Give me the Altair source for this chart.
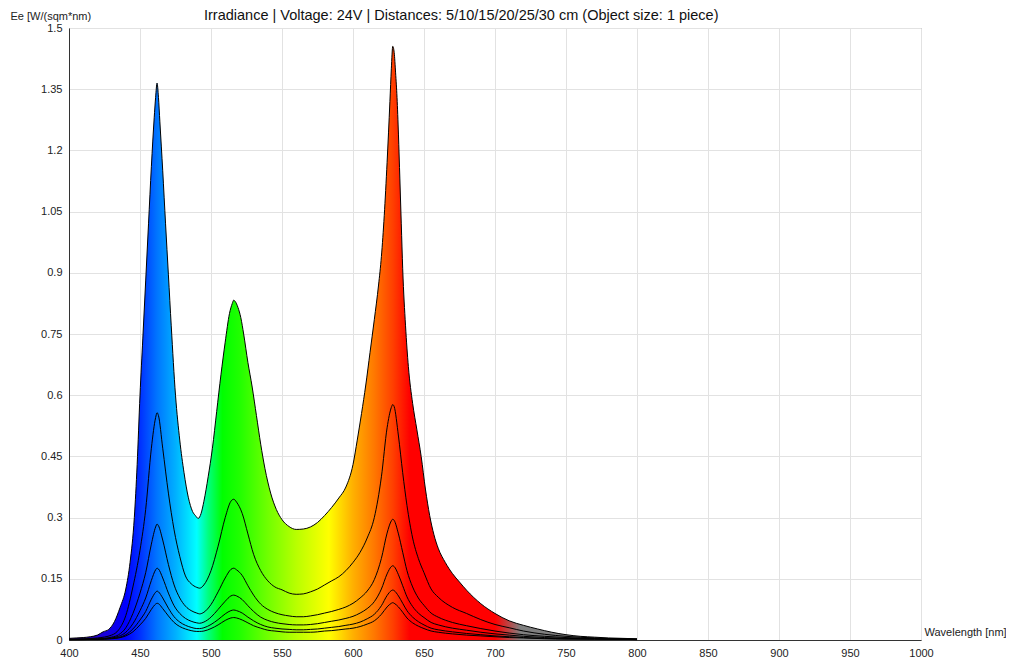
import altair as alt
import pandas as pd

# ---- 5 cm curve (outer, filled) ----
wl_5cm = [400, 405, 410, 415, 420, 424, 428, 432, 436, 440, 443, 446, 448, 450, 452, 454, 456, 458,
          460, 461, 462, 463, 464, 466, 468, 470, 472, 475, 478, 481, 484, 487, 489, 491, 493, 495,
          498, 501, 504, 507, 510, 513, 515, 516, 517, 519, 521, 523, 526, 529, 532, 535, 538, 542,
          546, 550, 555, 560, 565, 570, 575, 580, 585, 590, 595, 600, 603, 606, 609, 612, 615, 618,
          620, 622, 624, 626, 627, 628, 629, 630, 631, 632, 633, 634, 635, 637, 639, 642, 645, 648,
          651, 654, 657, 660, 665, 670, 675, 680, 690, 700, 710, 720, 730, 740, 750, 760, 770, 780,
          790, 800]
ee_5cm = [0.004, 0.005, 0.006, 0.008, 0.012, 0.02, 0.026, 0.045, 0.08, 0.125, 0.19, 0.30, 0.43, 0.60,
          0.74, 0.88, 1.02, 1.16, 1.28, 1.33, 1.365, 1.33, 1.27, 1.15, 1.02, 0.895, 0.77, 0.60, 0.49,
          0.41, 0.35, 0.315, 0.305, 0.298, 0.31, 0.34, 0.40, 0.47, 0.56, 0.65, 0.73, 0.80, 0.825,
          0.833, 0.83, 0.815, 0.79, 0.75, 0.68, 0.62, 0.55, 0.48, 0.42, 0.36, 0.32, 0.295, 0.278,
          0.271, 0.272, 0.277, 0.288, 0.305, 0.325, 0.348, 0.375, 0.43, 0.49, 0.555, 0.625, 0.705,
          0.785, 0.87, 0.94, 1.04, 1.17, 1.32, 1.40, 1.455, 1.44, 1.39, 1.33, 1.24, 1.13, 1.02, 0.91,
          0.77, 0.67, 0.58, 0.515, 0.45, 0.37, 0.305, 0.258, 0.225, 0.19, 0.163, 0.142, 0.122, 0.089,
          0.065, 0.047, 0.036, 0.027, 0.019, 0.013, 0.009, 0.007, 0.005, 0.004, 0.003]

# ---- further distances ----
wl_far = [400, 410, 420, 430, 435, 440, 445, 450, 454, 458, 461, 462, 463, 466, 470, 474, 478, 482,
          486, 490, 492, 495, 500, 505, 510, 514, 516, 518, 522, 526, 530, 535, 540, 545, 550, 555,
          560, 565, 570, 575, 580, 585, 590, 595, 600, 605, 610, 615, 620, 624, 627, 628, 629, 632,
          635, 638, 642, 646, 650, 655, 660, 670, 680, 690, 700, 710, 720, 735, 750, 770, 800]
ee_10cm = [0.002, 0.003, 0.005, 0.012, 0.025, 0.06, 0.13, 0.22, 0.32, 0.47, 0.545, 0.557, 0.55, 0.47,
           0.36, 0.27, 0.205, 0.157, 0.138, 0.129, 0.127, 0.135, 0.17, 0.23, 0.30, 0.34, 0.345, 0.338,
           0.31, 0.26, 0.21, 0.17, 0.145, 0.13, 0.123, 0.115, 0.112, 0.113, 0.118, 0.125, 0.135,
           0.145, 0.155, 0.17, 0.19, 0.215, 0.25, 0.30, 0.40, 0.52, 0.57, 0.577, 0.572, 0.50, 0.41,
           0.33, 0.25, 0.20, 0.165, 0.125, 0.105, 0.08, 0.065, 0.05, 0.038, 0.03, 0.022, 0.014, 0.009,
           0.005, 0.002]
ee_15cm = [0.001, 0.002, 0.003, 0.007, 0.013, 0.03, 0.065, 0.115, 0.165, 0.235, 0.277, 0.284, 0.28,
           0.245, 0.185, 0.135, 0.103, 0.083, 0.072, 0.066, 0.064, 0.068, 0.087, 0.118, 0.152, 0.173,
           0.176, 0.172, 0.158, 0.133, 0.11, 0.088, 0.075, 0.067, 0.062, 0.059, 0.057, 0.057, 0.059,
           0.062, 0.066, 0.07, 0.075, 0.081, 0.09, 0.103, 0.12, 0.148, 0.20, 0.262, 0.292, 0.296,
           0.293, 0.26, 0.215, 0.17, 0.13, 0.103, 0.085, 0.066, 0.056, 0.043, 0.035, 0.028, 0.022,
           0.017, 0.013, 0.009, 0.006, 0.004, 0.002]
ee_20cm = [0.001, 0.001, 0.002, 0.005, 0.009, 0.019, 0.04, 0.072, 0.103, 0.146, 0.172, 0.176, 0.174,
           0.152, 0.115, 0.084, 0.065, 0.053, 0.046, 0.042, 0.041, 0.044, 0.056, 0.075, 0.095, 0.108,
           0.11, 0.108, 0.099, 0.084, 0.07, 0.056, 0.048, 0.043, 0.04, 0.038, 0.037, 0.037, 0.038,
           0.04, 0.043, 0.046, 0.049, 0.053, 0.058, 0.066, 0.077, 0.094, 0.125, 0.162, 0.18, 0.182,
           0.18, 0.16, 0.133, 0.106, 0.082, 0.066, 0.055, 0.043, 0.037, 0.029, 0.024, 0.019, 0.015,
           0.012, 0.009, 0.006, 0.004, 0.003, 0.001]
ee_25cm = [0.001, 0.001, 0.002, 0.004, 0.006, 0.013, 0.027, 0.049, 0.07, 0.10, 0.117, 0.12, 0.118,
           0.103, 0.078, 0.057, 0.044, 0.036, 0.031, 0.028, 0.028, 0.03, 0.038, 0.05, 0.064, 0.072,
           0.0735, 0.072, 0.066, 0.056, 0.047, 0.038, 0.032, 0.029, 0.027, 0.026, 0.025, 0.025, 0.026,
           0.027, 0.029, 0.031, 0.033, 0.036, 0.039, 0.044, 0.052, 0.063, 0.084, 0.109, 0.121, 0.1225,
           0.121, 0.108, 0.09, 0.072, 0.056, 0.045, 0.037, 0.029, 0.025, 0.02, 0.016, 0.013, 0.01,
           0.008, 0.006, 0.004, 0.003, 0.002, 0.001]
ee_30cm = [0.0005, 0.001, 0.001, 0.003, 0.005, 0.01, 0.02, 0.037, 0.053, 0.075, 0.088, 0.09, 0.089,
           0.077, 0.059, 0.043, 0.033, 0.027, 0.023, 0.021, 0.021, 0.022, 0.028, 0.037, 0.048, 0.054,
           0.055, 0.054, 0.049, 0.042, 0.035, 0.029, 0.024, 0.022, 0.02, 0.019, 0.019, 0.019, 0.019,
           0.02, 0.022, 0.023, 0.025, 0.027, 0.029, 0.033, 0.039, 0.047, 0.063, 0.081, 0.09, 0.0915,
           0.09, 0.081, 0.068, 0.054, 0.042, 0.034, 0.028, 0.022, 0.019, 0.015, 0.012, 0.01, 0.008,
           0.006, 0.005, 0.003, 0.002, 0.002, 0.001]

x_ticks = [400, 450, 500, 550, 600, 650, 700, 750, 800, 850, 900, 950, 1000]
y_ticks = [0, 0.15, 0.3, 0.45, 0.6, 0.75, 0.9, 1.05, 1.2, 1.35, 1.5]

# spectrum colours for the fill (wavelength -> colour)
grad_nm = [400, 420, 440, 450, 462, 475, 490, 498, 508, 520, 540, 560, 583, 600, 615, 628, 640, 700, 718, 800]
grad_col = ["#330099", "#2200cc", "#0000ff", "#0030ff", "#0075ff", "#00b0ff", "#00ffff", "#00ff80",
            "#00ff00", "#20ff00", "#70ff00", "#b8ff00", "#ffff00", "#ffb000", "#ff7800", "#ff4000",
            "#ff0000", "#ff0000", "#808080", "#808080"]

FONT = "Liberation Sans"

top_df = pd.DataFrame({"wl": wl_5cm, "ee": ee_5cm, "dist": "5 cm"})
frames = [top_df]
for name, vals in [("10 cm", ee_10cm), ("15 cm", ee_15cm), ("20 cm", ee_20cm),
                   ("25 cm", ee_25cm), ("30 cm", ee_30cm)]:
    frames.append(pd.DataFrame({"wl": wl_far, "ee": vals, "dist": name}))
lines_df = pd.concat(frames, ignore_index=True)

lo, hi = min(wl_5cm), max(wl_5cm)
stops = [alt.GradientStop(color=c, offset=(w - lo) / (hi - lo)) for w, c in zip(grad_nm, grad_col)]
spectrum = alt.Gradient(gradient="linear", stops=stops, x1=0, x2=1, y1=0, y2=0)

x_enc = alt.X("wl:Q", scale=alt.Scale(domain=[400, 1000], nice=False, zero=False),
              axis=alt.Axis(values=x_ticks, title="Wavelength [nm]", format="d",
                            labelFlush=False, labelOverlap=False,
                            titleAngle=0, titleAlign="left", titleBaseline="middle",
                            titleX=855, titleY=-8))
y_enc = alt.Y("ee:Q", scale=alt.Scale(domain=[0, 1.5], nice=False),
              axis=alt.Axis(values=y_ticks, title="Ee [W/(sqm*nm)", format=".2~f",
                            labelFlush=False, labelOverlap=False,
                            titleAngle=0, titleAlign="left", titleBaseline="middle",
                            titleX=-59, titleY=-11.5))

area = alt.Chart(top_df).mark_area(interpolate="monotone", fill=spectrum, strokeWidth=0).encode(
    x=x_enc, y=y_enc)
lines = alt.Chart(lines_df).mark_line(interpolate="monotone", color="#000000", strokeWidth=1).encode(
    x=x_enc, y=y_enc, detail="dist:N")

chart = alt.layer(area, lines).properties(
    width=852, height=612,
    autosize=alt.AutoSizeParams(type="none"),
    padding={"left": 61, "top": 20, "right": 85, "bottom": 17},
    title=alt.TitleParams(
        "Irradiance | Voltage: 24V | Distances: 5/10/15/20/25/30 cm (Object size: 1 piece)",
        font=FONT, fontSize=14.5, fontWeight="normal", color="#111111",
        anchor="start", frame="group", dx=135, dy=14, baseline="alphabetic", offset=-10),
).configure_view(stroke="#8a8a8a", strokeWidth=1).configure_axis(
    grid=True, gridColor="#e2e2e2", gridWidth=1,
    ticks=False, tickSize=0,
    domainColor="#333333", domainWidth=1,
    labelFont=FONT, labelFontSize=11, labelColor="#222222",
    titleFont=FONT, titleFontSize=11, titleFontWeight="normal", titleColor="#222222",
).configure_axisX(labelPadding=7).configure_axisY(labelPadding=7)

chart.save("out.html", embed_options={"renderer": "svg", "actions": False})
